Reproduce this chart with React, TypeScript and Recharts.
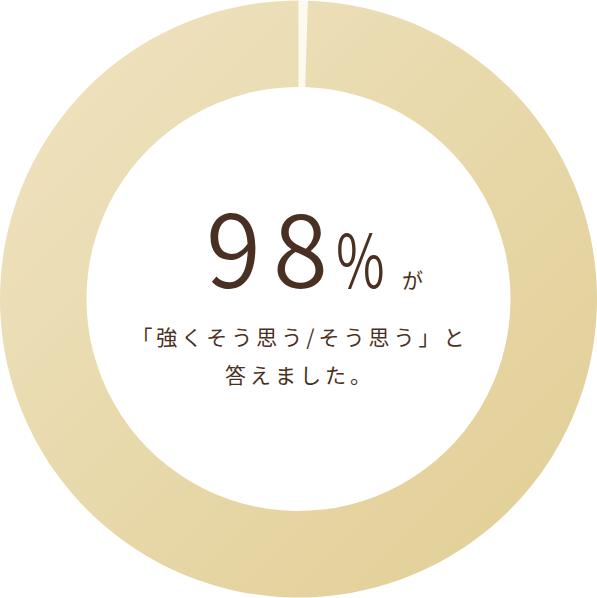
import { PieChart, Pie, Cell } from 'recharts';

// ring in the picture is almost closed: a thin light band sits just right of 12 o'clock
const ringNames = ['gap', 'agree'];
const ringShares = [0.5, 99.5];
const ringColors = ['#fcf9f1', 'url(#ringGradient)'];

const headlineDigits = ['9', '8'];
const headlineUnit = '%';
const headlineTail = 'が';
const captionLines = ['「強くそう思う/そう思う」と', '答えました。'];

const W = 597;
const H = 598;
const textColor = '#4a3022';
const font = '"Noto Sans CJK JP", "Noto Sans", sans-serif';

export default function App() {
  const data = ringNames.map((name, i) => ({ name, value: ringShares[i] }));

  return (
    <div style={{ position: 'absolute', left: 0, top: 0, width: W, height: H, background: '#fff' }}>
      <PieChart width={W} height={H} margin={{ top: 0, right: 0, bottom: 0, left: 0 }}>
        <defs>
          <linearGradient id="ringGradient" x1="0" y1="0" x2="1" y2="1">
            <stop offset="0%" stopColor="#efe3c2" />
            <stop offset="100%" stopColor="#e1ce93" />
          </linearGradient>
        </defs>
        <Pie
          data={data}
          dataKey="value"
          nameKey="name"
          cx={298.5}
          cy={299}
          innerRadius={212}
          outerRadius={298.5}
          startAngle={90}
          endAngle={-270}
          stroke="none"
          isAnimationActive={false}
        >
          {data.map((d, i) => (
            <Cell key={d.name} fill={ringColors[i]} />
          ))}
        </Pie>
      </PieChart>
      <svg width={W} height={H} style={{ position: 'absolute', left: 0, top: 0, pointerEvents: 'none' }}>
        {/* headline: big number (wide tracking), condensed unit, small particle */}
        <text y={288} fill={textColor} fontFamily={font} fontWeight={350} fontSize={100}>
          {headlineDigits.map((d, i) => (
            <tspan key={i} x={206 + i * 67}>
              {d}
            </tspan>
          ))}
        </text>
        <text
          transform="translate(336 288) scale(0.72 1)"
          fill={textColor}
          fontFamily={font}
          fontWeight={350}
          fontSize={74}
        >
          {headlineUnit}
        </text>
        <text x={402} y={288} fill={textColor} fontFamily={font} fontWeight={400} fontSize={21}>
          {headlineTail}
        </text>
        {captionLines.map((line, i) => (
          <text
            key={line}
            x={300}
            y={345 + i * 38}
            textAnchor="middle"
            fill={textColor}
            fontFamily={font}
            fontWeight={400}
            fontSize={21}
            letterSpacing={4}
          >
            {line}
          </text>
        ))}
      </svg>
    </div>
  );
}
